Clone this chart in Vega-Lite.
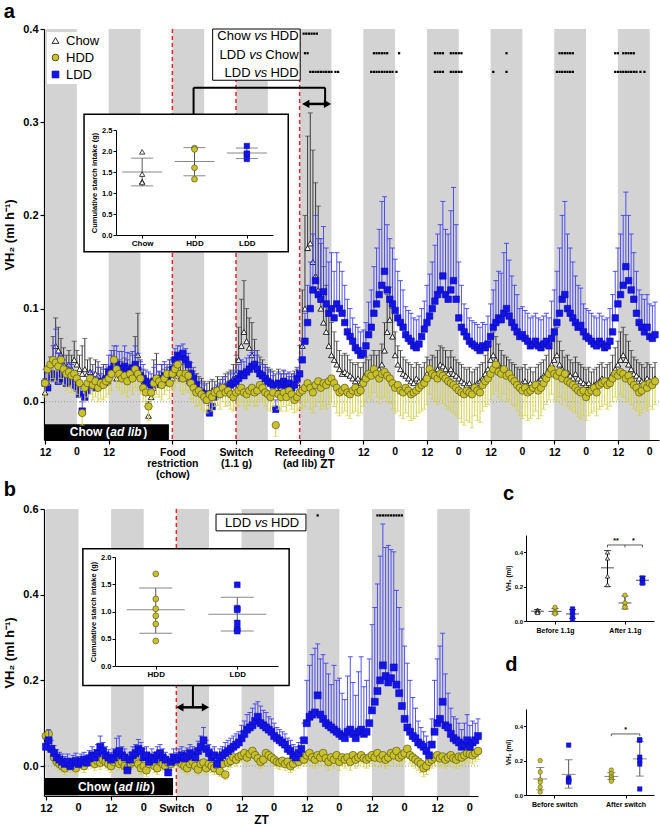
{
"$schema":"https://vega.github.io/schema/vega-lite/v6.json",
"background":"white",
"padding":{"left":3,"top":2,"right":0,"bottom":0},
"config":{
 "view":{"stroke":null},
 "font":"Liberation Sans",
 "axis":{"grid":false,"labelOverlap":false,"domainColor":"black","domainWidth":1.2,"tickColor":"black","tickWidth":1.2,"labelColor":"black","titleColor":"black","labelFontWeight":"bold","titleFontWeight":"bold","labelFont":"Liberation Sans","titleFont":"Liberation Sans"},
 "title":{"font":"Liberation Sans","fontWeight":"bold","color":"black","fontSize":20,"anchor":"start"}
},
"datasets":{
"aBand":[{"s":0,"e":12},{"s":24,"e":36},{"s":48,"e":60},{"s":72,"e":84},{"s":96,"e":108},{"s":120,"e":132},{"s":144,"e":156},{"s":168,"e":180},{"s":192,"e":204},{"s":216,"e":228}],
"bBand":[{"s":0,"e":12},{"s":24,"e":36},{"s":48,"e":60},{"s":72,"e":84},{"s":96,"e":108},{"s":120,"e":132},{"s":144,"e":156}],
"aZero":[{"t":12},{"t":108},{"t":132},{"t":156},{"t":180},{"t":204},{"t":228}],
"bZero":[{"t":12},{"t":36},{"t":60},{"t":84},{"t":108},{"t":132},{"t":156}],
"aEv":[{"t":48},{"t":72},{"t":96}],
"bEv":[{"t":48}],
"aL":[{"t":0,"v":0.02,"h":0.035},{"t":1,"v":0.015,"h":0.03},{"t":2,"v":0.025,"h":0.04},{"t":3,"v":0.03,"h":0.06},{"t":4,"v":0.028,"h":0.078},{"t":5,"v":0.022,"h":0.052},{"t":6,"v":0.03,"h":0.05},{"t":7,"v":0.025,"h":0.045},{"t":8,"v":0.02,"h":0.038},{"t":9,"v":0.022,"h":0.042},{"t":10,"v":0.025,"h":0.04},{"t":11,"v":0.018,"h":0.033},{"t":12,"v":0.015,"h":0.03},{"t":13,"v":0.008,"h":0.02},{"t":14,"v":-0.01,"h":0.0},{"t":15,"v":0.005,"h":0.017},{"t":16,"v":0.012,"h":0.027},{"t":17,"v":0.018,"h":0.033},{"t":18,"v":0.02,"h":0.032},{"t":19,"v":0.015,"h":0.027},{"t":20,"v":0.022,"h":0.037},{"t":21,"v":0.018,"h":0.03},{"t":22,"v":0.02,"h":0.035},{"t":23,"v":0.025,"h":0.04},{"t":24,"v":0.032,"h":0.05},{"t":25,"v":0.035,"h":0.055},{"t":26,"v":0.038,"h":0.06},{"t":27,"v":0.04,"h":0.06},{"t":28,"v":0.036,"h":0.054},{"t":29,"v":0.034,"h":0.054},{"t":30,"v":0.038,"h":0.06},{"t":31,"v":0.035,"h":0.053},{"t":32,"v":0.032,"h":0.052},{"t":33,"v":0.036,"h":0.054},{"t":34,"v":0.04,"h":0.06},{"t":35,"v":0.034,"h":0.052},{"t":36,"v":0.028,"h":0.043},{"t":37,"v":0.025,"h":0.04},{"t":38,"v":0.022,"h":0.034},{"t":39,"v":0.02,"h":0.032},{"t":40,"v":0.018,"h":0.03},{"t":41,"v":0.022,"h":0.037},{"t":42,"v":0.025,"h":0.04},{"t":43,"v":0.02,"h":0.032},{"t":44,"v":0.025,"h":0.04},{"t":45,"v":0.028,"h":0.043},{"t":46,"v":0.025,"h":0.037},{"t":47,"v":0.03,"h":0.045},{"t":48,"v":0.035,"h":0.047},{"t":49,"v":0.045,"h":0.057},{"t":50,"v":0.05,"h":0.06},{"t":51,"v":0.048,"h":0.06},{"t":52,"v":0.052,"h":0.062},{"t":53,"v":0.045,"h":0.057},{"t":54,"v":0.04,"h":0.052},{"t":55,"v":0.03,"h":0.042},{"t":56,"v":0.025,"h":0.037},{"t":57,"v":0.018,"h":0.03},{"t":58,"v":0.012,"h":0.022},{"t":59,"v":0.01,"h":0.02},{"t":60,"v":0.008,"h":0.018},{"t":61,"v":0.002,"h":0.012},{"t":62,"v":-0.012,"h":-0.004},{"t":63,"v":-0.005,"h":0.005},{"t":64,"v":0.005,"h":0.015},{"t":65,"v":0.008,"h":0.018},{"t":66,"v":0.01,"h":0.02},{"t":67,"v":0.012,"h":0.024},{"t":68,"v":0.015,"h":0.027},{"t":69,"v":0.012,"h":0.022},{"t":70,"v":0.018,"h":0.03},{"t":71,"v":0.02,"h":0.032},{"t":72,"v":0.022,"h":0.034},{"t":73,"v":0.025,"h":0.04},{"t":74,"v":0.03,"h":0.045},{"t":75,"v":0.028,"h":0.043},{"t":76,"v":0.032,"h":0.047},{"t":77,"v":0.035,"h":0.05},{"t":78,"v":0.038,"h":0.053},{"t":79,"v":0.04,"h":0.055},{"t":80,"v":0.035,"h":0.05},{"t":81,"v":0.03,"h":0.042},{"t":82,"v":0.028,"h":0.04},{"t":83,"v":0.025,"h":0.037},{"t":84,"v":0.022,"h":0.034},{"t":85,"v":0.02,"h":0.032},{"t":86,"v":0.018,"h":0.028},{"t":87,"v":-0.008,"h":0.002},{"t":88,"v":0.02,"h":0.032},{"t":89,"v":0.018,"h":0.03},{"t":90,"v":0.022,"h":0.034},{"t":91,"v":0.018,"h":0.03},{"t":92,"v":0.02,"h":0.032},{"t":93,"v":0.015,"h":0.027},{"t":94,"v":0.018,"h":0.03},{"t":95,"v":0.025,"h":0.037},{"t":96,"v":0.03,"h":0.045},{"t":97,"v":0.045,"h":0.065},{"t":98,"v":0.065,"h":0.095},{"t":99,"v":0.085,"h":0.125},{"t":100,"v":0.1,"h":0.15},{"t":101,"v":0.12,"h":0.18},{"t":102,"v":0.13,"h":0.2},{"t":103,"v":0.115,"h":0.175},{"t":104,"v":0.11,"h":0.175},{"t":105,"v":0.118,"h":0.188},{"t":106,"v":0.105,"h":0.165},{"t":107,"v":0.095,"h":0.15},{"t":108,"v":0.1,"h":0.16},{"t":109,"v":0.09,"h":0.14},{"t":110,"v":0.105,"h":0.16},{"t":111,"v":0.1,"h":0.15},{"t":112,"v":0.095,"h":0.14},{"t":113,"v":0.085,"h":0.125},{"t":114,"v":0.075,"h":0.11},{"t":115,"v":0.07,"h":0.1},{"t":116,"v":0.065,"h":0.09},{"t":117,"v":0.058,"h":0.083},{"t":118,"v":0.055,"h":0.08},{"t":119,"v":0.05,"h":0.075},{"t":120,"v":0.052,"h":0.077},{"t":121,"v":0.06,"h":0.085},{"t":122,"v":0.072,"h":0.107},{"t":123,"v":0.08,"h":0.12},{"t":124,"v":0.095,"h":0.145},{"t":125,"v":0.105,"h":0.165},{"t":126,"v":0.115,"h":0.185},{"t":127,"v":0.125,"h":0.215},{"t":128,"v":0.14,"h":0.22},{"t":129,"v":0.12,"h":0.19},{"t":130,"v":0.11,"h":0.175},{"t":131,"v":0.105,"h":0.165},{"t":132,"v":0.098,"h":0.153},{"t":133,"v":0.09,"h":0.14},{"t":134,"v":0.085,"h":0.13},{"t":135,"v":0.08,"h":0.12},{"t":136,"v":0.072,"h":0.102},{"t":137,"v":0.068,"h":0.098},{"t":138,"v":0.065,"h":0.095},{"t":139,"v":0.06,"h":0.09},{"t":140,"v":0.058,"h":0.088},{"t":141,"v":0.062,"h":0.092},{"t":142,"v":0.07,"h":0.1},{"t":143,"v":0.078,"h":0.108},{"t":144,"v":0.085,"h":0.125},{"t":145,"v":0.092,"h":0.137},{"t":146,"v":0.1,"h":0.15},{"t":147,"v":0.108,"h":0.168},{"t":148,"v":0.115,"h":0.18},{"t":149,"v":0.12,"h":0.19},{"t":150,"v":0.135,"h":0.215},{"t":151,"v":0.115,"h":0.185},{"t":152,"v":0.11,"h":0.18},{"t":153,"v":0.12,"h":0.205},{"t":154,"v":0.13,"h":0.23},{"t":155,"v":0.11,"h":0.19},{"t":156,"v":0.09,"h":0.15},{"t":157,"v":0.08,"h":0.125},{"t":158,"v":0.075,"h":0.105},{"t":159,"v":0.07,"h":0.1},{"t":160,"v":0.065,"h":0.09},{"t":161,"v":0.062,"h":0.087},{"t":162,"v":0.06,"h":0.085},{"t":163,"v":0.058,"h":0.083},{"t":164,"v":0.055,"h":0.08},{"t":165,"v":0.06,"h":0.085},{"t":166,"v":0.058,"h":0.083},{"t":167,"v":0.062,"h":0.092},{"t":168,"v":0.07,"h":0.105},{"t":169,"v":0.08,"h":0.12},{"t":170,"v":0.085,"h":0.13},{"t":171,"v":0.09,"h":0.14},{"t":172,"v":0.088,"h":0.138},{"t":173,"v":0.095,"h":0.16},{"t":174,"v":0.1,"h":0.17},{"t":175,"v":0.092,"h":0.152},{"t":176,"v":0.085,"h":0.135},{"t":177,"v":0.08,"h":0.125},{"t":178,"v":0.075,"h":0.115},{"t":179,"v":0.07,"h":0.1},{"t":180,"v":0.072,"h":0.102},{"t":181,"v":0.068,"h":0.098},{"t":182,"v":0.065,"h":0.095},{"t":183,"v":0.06,"h":0.09},{"t":184,"v":0.062,"h":0.092},{"t":185,"v":0.065,"h":0.095},{"t":186,"v":0.06,"h":0.09},{"t":187,"v":0.058,"h":0.088},{"t":188,"v":0.062,"h":0.092},{"t":189,"v":0.065,"h":0.095},{"t":190,"v":0.06,"h":0.09},{"t":191,"v":0.068,"h":0.108},{"t":192,"v":0.075,"h":0.12},{"t":193,"v":0.085,"h":0.14},{"t":194,"v":0.095,"h":0.165},{"t":195,"v":0.11,"h":0.2},{"t":196,"v":0.115,"h":0.215},{"t":197,"v":0.1,"h":0.18},{"t":198,"v":0.095,"h":0.165},{"t":199,"v":0.09,"h":0.15},{"t":200,"v":0.085,"h":0.135},{"t":201,"v":0.08,"h":0.125},{"t":202,"v":0.082,"h":0.122},{"t":203,"v":0.075,"h":0.105},{"t":204,"v":0.07,"h":0.1},{"t":205,"v":0.068,"h":0.098},{"t":206,"v":0.065,"h":0.095},{"t":207,"v":0.062,"h":0.092},{"t":208,"v":0.06,"h":0.09},{"t":209,"v":0.065,"h":0.095},{"t":210,"v":0.062,"h":0.092},{"t":211,"v":0.058,"h":0.088},{"t":212,"v":0.06,"h":0.09},{"t":213,"v":0.065,"h":0.1},{"t":214,"v":0.075,"h":0.115},{"t":215,"v":0.09,"h":0.14},{"t":216,"v":0.105,"h":0.165},{"t":217,"v":0.115,"h":0.18},{"t":218,"v":0.125,"h":0.2},{"t":219,"v":0.145,"h":0.225},{"t":220,"v":0.13,"h":0.2},{"t":221,"v":0.12,"h":0.18},{"t":222,"v":0.11,"h":0.16},{"t":223,"v":0.095,"h":0.14},{"t":224,"v":0.085,"h":0.12},{"t":225,"v":0.08,"h":0.115},{"t":226,"v":0.075,"h":0.11},{"t":227,"v":0.08,"h":0.115},{"t":228,"v":0.07,"h":0.105},{"t":229,"v":0.068,"h":0.103},{"t":230,"v":0.072,"h":0.107}],
"aC":[{"t":0,"v":0.01,"h":0.025},{"t":1,"v":0.02,"h":0.035},{"t":2,"v":0.03,"h":0.048},{"t":3,"v":0.045,"h":0.07},{"t":4,"v":0.06,"h":0.09},{"t":5,"v":0.055,"h":0.08},{"t":6,"v":0.05,"h":0.068},{"t":7,"v":0.04,"h":0.058},{"t":8,"v":0.035,"h":0.05},{"t":9,"v":0.04,"h":0.055},{"t":10,"v":0.035,"h":0.05},{"t":11,"v":0.045,"h":0.065},{"t":12,"v":0.04,"h":0.055},{"t":13,"v":0.035,"h":0.05},{"t":14,"v":0.03,"h":0.06},{"t":15,"v":0.035,"h":0.068},{"t":16,"v":0.03,"h":0.045},{"t":17,"v":0.032,"h":0.047},{"t":18,"v":0.025,"h":0.04},{"t":19,"v":0.03,"h":0.045},{"t":20,"v":0.028,"h":0.043},{"t":21,"v":0.022,"h":0.037},{"t":22,"v":0.025,"h":0.04},{"t":23,"v":0.02,"h":0.035},{"t":24,"v":0.022,"h":0.037},{"t":25,"v":0.03,"h":0.05},{"t":26,"v":0.035,"h":0.055},{"t":27,"v":0.025,"h":0.04},{"t":28,"v":0.03,"h":0.045},{"t":29,"v":0.028,"h":0.043},{"t":30,"v":0.032,"h":0.047},{"t":31,"v":0.03,"h":0.045},{"t":32,"v":0.025,"h":0.04},{"t":33,"v":0.035,"h":0.05},{"t":34,"v":0.04,"h":0.07},{"t":35,"v":0.05,"h":0.095},{"t":36,"v":0.03,"h":0.045},{"t":37,"v":0.02,"h":0.035},{"t":38,"v":0.01,"h":0.025},{"t":39,"v":-0.015,"h":0.0},{"t":40,"v":0.005,"h":0.02},{"t":41,"v":0.015,"h":0.045},{"t":42,"v":0.02,"h":0.052},{"t":43,"v":0.018,"h":0.033},{"t":44,"v":0.025,"h":0.04},{"t":45,"v":0.02,"h":0.035},{"t":46,"v":0.025,"h":0.04},{"t":47,"v":0.03,"h":0.045},{"t":48,"v":0.025,"h":0.04},{"t":49,"v":0.03,"h":0.045},{"t":50,"v":0.028,"h":0.043},{"t":51,"v":0.025,"h":0.04},{"t":52,"v":0.03,"h":0.045},{"t":53,"v":0.025,"h":0.04},{"t":54,"v":0.022,"h":0.037},{"t":55,"v":0.02,"h":0.035},{"t":56,"v":0.018,"h":0.033},{"t":57,"v":0.015,"h":0.03},{"t":58,"v":0.012,"h":0.027},{"t":59,"v":0.01,"h":0.025},{"t":60,"v":0.01,"h":0.022},{"t":61,"v":0.008,"h":0.02},{"t":62,"v":0.01,"h":0.022},{"t":63,"v":0.012,"h":0.024},{"t":64,"v":0.01,"h":0.022},{"t":65,"v":0.015,"h":0.027},{"t":66,"v":0.012,"h":0.024},{"t":67,"v":0.015,"h":0.027},{"t":68,"v":0.018,"h":0.03},{"t":69,"v":0.02,"h":0.032},{"t":70,"v":0.022,"h":0.034},{"t":71,"v":0.025,"h":0.04},{"t":72,"v":0.03,"h":0.05},{"t":73,"v":0.045,"h":0.08},{"t":74,"v":0.06,"h":0.11},{"t":75,"v":0.075,"h":0.13},{"t":76,"v":0.065,"h":0.1},{"t":77,"v":0.058,"h":0.09},{"t":78,"v":0.05,"h":0.085},{"t":79,"v":0.042,"h":0.067},{"t":80,"v":0.035,"h":0.055},{"t":81,"v":0.03,"h":0.048},{"t":82,"v":0.028,"h":0.045},{"t":83,"v":0.025,"h":0.04},{"t":84,"v":0.022,"h":0.037},{"t":85,"v":0.02,"h":0.035},{"t":86,"v":0.018,"h":0.033},{"t":87,"v":0.015,"h":0.03},{"t":88,"v":0.02,"h":0.035},{"t":89,"v":0.015,"h":0.03},{"t":90,"v":0.018,"h":0.033},{"t":91,"v":0.015,"h":0.03},{"t":92,"v":0.012,"h":0.027},{"t":93,"v":0.015,"h":0.03},{"t":94,"v":0.018,"h":0.033},{"t":95,"v":0.02,"h":0.035},{"t":96,"v":0.03,"h":0.06},{"t":97,"v":0.06,"h":0.12},{"t":98,"v":0.1,"h":0.2},{"t":99,"v":0.165,"h":0.285},{"t":100,"v":0.17,"h":0.31},{"t":101,"v":0.15,"h":0.27},{"t":102,"v":0.135,"h":0.235},{"t":103,"v":0.12,"h":0.21},{"t":104,"v":0.1,"h":0.17},{"t":105,"v":0.085,"h":0.145},{"t":106,"v":0.075,"h":0.125},{"t":107,"v":0.06,"h":0.1},{"t":108,"v":0.05,"h":0.085},{"t":109,"v":0.045,"h":0.075},{"t":110,"v":0.04,"h":0.065},{"t":111,"v":0.035,"h":0.055},{"t":112,"v":0.03,"h":0.05},{"t":113,"v":0.032,"h":0.052},{"t":114,"v":0.03,"h":0.05},{"t":115,"v":0.028,"h":0.045},{"t":116,"v":0.025,"h":0.042},{"t":117,"v":0.022,"h":0.04},{"t":118,"v":0.025,"h":0.042},{"t":119,"v":0.02,"h":0.037},{"t":120,"v":0.025,"h":0.042},{"t":121,"v":0.03,"h":0.048},{"t":122,"v":0.028,"h":0.045},{"t":123,"v":0.032,"h":0.05},{"t":124,"v":0.035,"h":0.055},{"t":125,"v":0.03,"h":0.05},{"t":126,"v":0.035,"h":0.055},{"t":127,"v":0.04,"h":0.062},{"t":128,"v":0.055,"h":0.085},{"t":129,"v":0.075,"h":0.115},{"t":130,"v":0.088,"h":0.123},{"t":131,"v":0.07,"h":0.1},{"t":132,"v":0.05,"h":0.075},{"t":133,"v":0.04,"h":0.06},{"t":134,"v":0.035,"h":0.055},{"t":135,"v":0.03,"h":0.048},{"t":136,"v":0.028,"h":0.045},{"t":137,"v":0.025,"h":0.042},{"t":138,"v":0.022,"h":0.04},{"t":139,"v":0.02,"h":0.037},{"t":140,"v":0.025,"h":0.042},{"t":141,"v":0.022,"h":0.04},{"t":142,"v":0.02,"h":0.037},{"t":143,"v":0.025,"h":0.042},{"t":144,"v":0.03,"h":0.048},{"t":145,"v":0.028,"h":0.045},{"t":146,"v":0.032,"h":0.05},{"t":147,"v":0.03,"h":0.048},{"t":148,"v":0.035,"h":0.055},{"t":149,"v":0.04,"h":0.06},{"t":150,"v":0.038,"h":0.058},{"t":151,"v":0.035,"h":0.055},{"t":152,"v":0.03,"h":0.048},{"t":153,"v":0.035,"h":0.055},{"t":154,"v":0.03,"h":0.048},{"t":155,"v":0.028,"h":0.045},{"t":156,"v":0.025,"h":0.042},{"t":157,"v":0.022,"h":0.04},{"t":158,"v":0.02,"h":0.037},{"t":159,"v":0.018,"h":0.035},{"t":160,"v":0.02,"h":0.037},{"t":161,"v":0.015,"h":0.032},{"t":162,"v":0.018,"h":0.035},{"t":163,"v":0.02,"h":0.037},{"t":164,"v":0.022,"h":0.04},{"t":165,"v":0.025,"h":0.042},{"t":166,"v":0.03,"h":0.05},{"t":167,"v":0.035,"h":0.058},{"t":168,"v":0.045,"h":0.07},{"t":169,"v":0.05,"h":0.075},{"t":170,"v":0.045,"h":0.07},{"t":171,"v":0.04,"h":0.062},{"t":172,"v":0.035,"h":0.055},{"t":173,"v":0.032,"h":0.05},{"t":174,"v":0.03,"h":0.048},{"t":175,"v":0.028,"h":0.045},{"t":176,"v":0.025,"h":0.042},{"t":177,"v":0.022,"h":0.04},{"t":178,"v":0.02,"h":0.037},{"t":179,"v":0.018,"h":0.035},{"t":180,"v":0.02,"h":0.037},{"t":181,"v":0.022,"h":0.04},{"t":182,"v":0.018,"h":0.035},{"t":183,"v":0.02,"h":0.037},{"t":184,"v":0.015,"h":0.032},{"t":185,"v":0.02,"h":0.037},{"t":186,"v":0.022,"h":0.04},{"t":187,"v":0.025,"h":0.042},{"t":188,"v":0.028,"h":0.045},{"t":189,"v":0.03,"h":0.05},{"t":190,"v":0.035,"h":0.058},{"t":191,"v":0.04,"h":0.065},{"t":192,"v":0.045,"h":0.075},{"t":193,"v":0.05,"h":0.08},{"t":194,"v":0.04,"h":0.065},{"t":195,"v":0.035,"h":0.055},{"t":196,"v":0.03,"h":0.048},{"t":197,"v":0.032,"h":0.05},{"t":198,"v":0.028,"h":0.045},{"t":199,"v":0.025,"h":0.042},{"t":200,"v":0.03,"h":0.048},{"t":201,"v":0.025,"h":0.042},{"t":202,"v":0.022,"h":0.04},{"t":203,"v":0.02,"h":0.037},{"t":204,"v":0.018,"h":0.035},{"t":205,"v":0.02,"h":0.037},{"t":206,"v":0.015,"h":0.032},{"t":207,"v":0.018,"h":0.035},{"t":208,"v":0.02,"h":0.037},{"t":209,"v":0.022,"h":0.04},{"t":210,"v":0.025,"h":0.042},{"t":211,"v":0.02,"h":0.037},{"t":212,"v":0.022,"h":0.04},{"t":213,"v":0.025,"h":0.042},{"t":214,"v":0.03,"h":0.05},{"t":215,"v":0.035,"h":0.058},{"t":216,"v":0.04,"h":0.065},{"t":217,"v":0.045,"h":0.075},{"t":218,"v":0.05,"h":0.08},{"t":219,"v":0.045,"h":0.072},{"t":220,"v":0.04,"h":0.065},{"t":221,"v":0.035,"h":0.055},{"t":222,"v":0.03,"h":0.048},{"t":223,"v":0.028,"h":0.045},{"t":224,"v":0.025,"h":0.042},{"t":225,"v":0.022,"h":0.04},{"t":226,"v":0.02,"h":0.037},{"t":227,"v":0.025,"h":0.042},{"t":228,"v":0.022,"h":0.04},{"t":229,"v":0.02,"h":0.037},{"t":230,"v":0.025,"h":0.042}],
"aH":[{"t":0,"v":0.02,"l":0.005},{"t":1,"v":0.035,"l":0.018},{"t":2,"v":0.04,"l":0.022},{"t":3,"v":0.045,"l":0.025},{"t":4,"v":0.042,"l":0.022},{"t":5,"v":0.038,"l":0.02},{"t":6,"v":0.045,"l":0.025},{"t":7,"v":0.035,"l":0.018},{"t":8,"v":0.03,"l":0.012},{"t":9,"v":0.032,"l":0.015},{"t":10,"v":0.028,"l":0.01},{"t":11,"v":0.03,"l":0.012},{"t":12,"v":0.025,"l":0.008},{"t":13,"v":0.02,"l":0.005},{"t":14,"v":-0.012,"l":-0.025},{"t":15,"v":0.015,"l":0.0},{"t":16,"v":0.02,"l":0.005},{"t":17,"v":0.025,"l":0.008},{"t":18,"v":0.018,"l":0.002},{"t":19,"v":0.022,"l":0.005},{"t":20,"v":0.015,"l":0.0},{"t":21,"v":0.02,"l":0.003},{"t":22,"v":0.018,"l":0.002},{"t":23,"v":0.022,"l":0.005},{"t":24,"v":0.025,"l":0.008},{"t":25,"v":0.03,"l":0.012},{"t":26,"v":0.045,"l":0.025},{"t":27,"v":0.035,"l":0.015},{"t":28,"v":0.03,"l":0.012},{"t":29,"v":0.025,"l":0.008},{"t":30,"v":0.028,"l":0.01},{"t":31,"v":0.022,"l":0.005},{"t":32,"v":0.03,"l":0.012},{"t":33,"v":0.025,"l":0.008},{"t":34,"v":0.035,"l":0.015},{"t":35,"v":0.03,"l":0.012},{"t":36,"v":0.025,"l":0.008},{"t":37,"v":0.015,"l":0.0},{"t":38,"v":0.01,"l":-0.005},{"t":39,"v":-0.005,"l":-0.02},{"t":40,"v":0.01,"l":-0.005},{"t":41,"v":0.02,"l":0.005},{"t":42,"v":0.025,"l":0.008},{"t":43,"v":0.022,"l":0.005},{"t":44,"v":0.018,"l":0.002},{"t":45,"v":0.025,"l":0.008},{"t":46,"v":0.03,"l":0.012},{"t":47,"v":0.02,"l":0.003},{"t":48,"v":0.03,"l":0.012},{"t":49,"v":0.035,"l":0.015},{"t":50,"v":0.04,"l":0.02},{"t":51,"v":0.03,"l":0.012},{"t":52,"v":0.025,"l":0.008},{"t":53,"v":0.03,"l":0.012},{"t":54,"v":0.028,"l":0.01},{"t":55,"v":0.02,"l":0.003},{"t":56,"v":0.015,"l":0.0},{"t":57,"v":0.01,"l":-0.005},{"t":58,"v":0.012,"l":-0.004},{"t":59,"v":0.008,"l":-0.008},{"t":60,"v":0.005,"l":-0.01},{"t":61,"v":0.002,"l":-0.012},{"t":62,"v":0.008,"l":-0.008},{"t":63,"v":0.005,"l":-0.01},{"t":64,"v":0.01,"l":-0.005},{"t":65,"v":0.012,"l":-0.004},{"t":66,"v":0.008,"l":-0.008},{"t":67,"v":0.015,"l":0.0},{"t":68,"v":0.01,"l":-0.005},{"t":69,"v":0.012,"l":-0.004},{"t":70,"v":0.008,"l":-0.008},{"t":71,"v":0.005,"l":-0.01},{"t":72,"v":0.01,"l":-0.005},{"t":73,"v":0.012,"l":-0.004},{"t":74,"v":0.015,"l":0.0},{"t":75,"v":0.01,"l":-0.005},{"t":76,"v":0.008,"l":-0.008},{"t":77,"v":0.012,"l":-0.004},{"t":78,"v":0.015,"l":0.0},{"t":79,"v":0.01,"l":-0.005},{"t":80,"v":0.012,"l":-0.004},{"t":81,"v":0.018,"l":0.002},{"t":82,"v":0.015,"l":0.0},{"t":83,"v":0.01,"l":-0.005},{"t":84,"v":0.008,"l":-0.008},{"t":85,"v":0.005,"l":-0.01},{"t":86,"v":0.01,"l":-0.005},{"t":87,"v":-0.025,"l":-0.037},{"t":88,"v":0.008,"l":-0.008},{"t":89,"v":0.005,"l":-0.01},{"t":90,"v":0.01,"l":-0.005},{"t":91,"v":0.005,"l":-0.01},{"t":92,"v":0.012,"l":-0.004},{"t":93,"v":0.008,"l":-0.008},{"t":94,"v":0.002,"l":-0.012},{"t":95,"v":0.005,"l":-0.01},{"t":96,"v":0.01,"l":-0.008},{"t":97,"v":0.012,"l":-0.008},{"t":98,"v":0.015,"l":-0.005},{"t":99,"v":0.02,"l":0.0},{"t":100,"v":0.015,"l":-0.008},{"t":101,"v":0.01,"l":-0.012},{"t":102,"v":0.018,"l":-0.005},{"t":103,"v":0.022,"l":0.0},{"t":104,"v":0.015,"l":-0.008},{"t":105,"v":0.02,"l":-0.005},{"t":106,"v":0.018,"l":-0.008},{"t":107,"v":0.022,"l":-0.003},{"t":108,"v":0.025,"l":0.0},{"t":109,"v":0.02,"l":-0.005},{"t":110,"v":0.015,"l":-0.012},{"t":111,"v":0.01,"l":-0.015},{"t":112,"v":0.012,"l":-0.012},{"t":113,"v":0.015,"l":-0.01},{"t":114,"v":0.01,"l":-0.015},{"t":115,"v":0.008,"l":-0.018},{"t":116,"v":0.012,"l":-0.012},{"t":117,"v":0.015,"l":-0.01},{"t":118,"v":0.01,"l":-0.015},{"t":119,"v":0.012,"l":-0.012},{"t":120,"v":0.02,"l":-0.005},{"t":121,"v":0.025,"l":0.0},{"t":122,"v":0.03,"l":0.005},{"t":123,"v":0.028,"l":0.002},{"t":124,"v":0.035,"l":0.01},{"t":125,"v":0.03,"l":0.005},{"t":126,"v":0.025,"l":-0.002},{"t":127,"v":0.03,"l":0.003},{"t":128,"v":0.032,"l":0.005},{"t":129,"v":0.028,"l":0.0},{"t":130,"v":0.025,"l":-0.002},{"t":131,"v":0.02,"l":-0.008},{"t":132,"v":0.015,"l":-0.012},{"t":133,"v":0.018,"l":-0.01},{"t":134,"v":0.012,"l":-0.015},{"t":135,"v":0.01,"l":-0.018},{"t":136,"v":0.015,"l":-0.012},{"t":137,"v":0.012,"l":-0.016},{"t":138,"v":0.008,"l":-0.02},{"t":139,"v":0.01,"l":-0.018},{"t":140,"v":0.012,"l":-0.016},{"t":141,"v":0.015,"l":-0.012},{"t":142,"v":0.018,"l":-0.01},{"t":143,"v":0.02,"l":-0.008},{"t":144,"v":0.025,"l":-0.003},{"t":145,"v":0.035,"l":0.008},{"t":146,"v":0.03,"l":0.003},{"t":147,"v":0.028,"l":0.0},{"t":148,"v":0.025,"l":-0.003},{"t":149,"v":0.03,"l":0.002},{"t":150,"v":0.028,"l":-0.002},{"t":151,"v":0.025,"l":-0.005},{"t":152,"v":0.022,"l":-0.008},{"t":153,"v":0.02,"l":-0.01},{"t":154,"v":0.018,"l":-0.012},{"t":155,"v":0.015,"l":-0.015},{"t":156,"v":0.012,"l":-0.018},{"t":157,"v":0.01,"l":-0.022},{"t":158,"v":0.008,"l":-0.025},{"t":159,"v":0.012,"l":-0.02},{"t":160,"v":0.01,"l":-0.022},{"t":161,"v":0.008,"l":-0.028},{"t":162,"v":0.015,"l":-0.015},{"t":163,"v":0.012,"l":-0.02},{"t":164,"v":0.01,"l":-0.022},{"t":165,"v":0.018,"l":-0.01},{"t":166,"v":0.022,"l":-0.005},{"t":167,"v":0.025,"l":-0.003},{"t":168,"v":0.03,"l":0.002},{"t":169,"v":0.035,"l":0.008},{"t":170,"v":0.04,"l":0.012},{"t":171,"v":0.032,"l":0.005},{"t":172,"v":0.03,"l":0.002},{"t":173,"v":0.035,"l":0.008},{"t":174,"v":0.028,"l":0.0},{"t":175,"v":0.03,"l":0.002},{"t":176,"v":0.025,"l":-0.003},{"t":177,"v":0.022,"l":-0.005},{"t":178,"v":0.018,"l":-0.01},{"t":179,"v":0.015,"l":-0.015},{"t":180,"v":0.012,"l":-0.018},{"t":181,"v":0.015,"l":-0.015},{"t":182,"v":0.01,"l":-0.02},{"t":183,"v":0.012,"l":-0.018},{"t":184,"v":0.015,"l":-0.015},{"t":185,"v":0.018,"l":-0.01},{"t":186,"v":0.012,"l":-0.018},{"t":187,"v":0.015,"l":-0.015},{"t":188,"v":0.02,"l":-0.008},{"t":189,"v":0.025,"l":-0.003},{"t":190,"v":0.03,"l":0.002},{"t":191,"v":0.035,"l":0.008},{"t":192,"v":0.03,"l":0.002},{"t":193,"v":0.028,"l":0.0},{"t":194,"v":0.032,"l":0.005},{"t":195,"v":0.025,"l":-0.003},{"t":196,"v":0.03,"l":0.002},{"t":197,"v":0.022,"l":-0.005},{"t":198,"v":0.02,"l":-0.008},{"t":199,"v":0.018,"l":-0.01},{"t":200,"v":0.015,"l":-0.012},{"t":201,"v":0.012,"l":-0.016},{"t":202,"v":0.01,"l":-0.018},{"t":203,"v":0.012,"l":-0.015},{"t":204,"v":0.005,"l":-0.02},{"t":205,"v":0.01,"l":-0.015},{"t":206,"v":0.012,"l":-0.012},{"t":207,"v":0.015,"l":-0.01},{"t":208,"v":0.01,"l":-0.015},{"t":209,"v":0.018,"l":-0.008},{"t":210,"v":0.02,"l":-0.005},{"t":211,"v":0.022,"l":-0.003},{"t":212,"v":0.018,"l":-0.008},{"t":213,"v":0.02,"l":-0.005},{"t":214,"v":0.025,"l":0.0},{"t":215,"v":0.03,"l":0.005},{"t":216,"v":0.028,"l":0.002},{"t":217,"v":0.032,"l":0.008},{"t":218,"v":0.03,"l":0.005},{"t":219,"v":0.025,"l":0.0},{"t":220,"v":0.028,"l":0.002},{"t":221,"v":0.022,"l":-0.003},{"t":222,"v":0.018,"l":-0.008},{"t":223,"v":0.015,"l":-0.01},{"t":224,"v":0.01,"l":-0.015},{"t":225,"v":0.012,"l":-0.012},{"t":226,"v":0.018,"l":-0.008},{"t":227,"v":0.015,"l":-0.01},{"t":228,"v":0.02,"l":-0.005},{"t":229,"v":0.018,"l":-0.008},{"t":230,"v":0.022,"l":-0.003}],
"aSig":[{"c":"CH","t":97.5},{"c":"CH","t":98.5},{"c":"CH","t":99.5},{"c":"CH","t":100.5},{"c":"CH","t":101.5},{"c":"CH","t":102.5},
{"c":"LC","t":98},{"c":"LC","t":99},{"c":"LC","t":124},{"c":"LC","t":125},{"c":"LC","t":126},{"c":"LC","t":127},{"c":"LC","t":128},{"c":"LC","t":129},{"c":"LC","t":133.5},{"c":"LC","t":147},{"c":"LC","t":148},{"c":"LC","t":149},{"c":"LC","t":150},{"c":"LC","t":153},{"c":"LC","t":154},{"c":"LC","t":155},{"c":"LC","t":156},{"c":"LC","t":157},{"c":"LC","t":174},{"c":"LC","t":194},{"c":"LC","t":195},{"c":"LC","t":196},{"c":"LC","t":197},{"c":"LC","t":198},{"c":"LC","t":199},{"c":"LC","t":215},{"c":"LC","t":216},{"c":"LC","t":218},{"c":"LC","t":219},{"c":"LC","t":220},{"c":"LC","t":221},{"c":"LC","t":222},
{"c":"LH","t":100},{"c":"LH","t":101},{"c":"LH","t":102},{"c":"LH","t":103},{"c":"LH","t":104},{"c":"LH","t":105},{"c":"LH","t":106},{"c":"LH","t":107},{"c":"LH","t":108},{"c":"LH","t":109.5},{"c":"LH","t":110.5},{"c":"LH","t":123},{"c":"LH","t":124},{"c":"LH","t":125},{"c":"LH","t":126},{"c":"LH","t":127},{"c":"LH","t":128},{"c":"LH","t":129},{"c":"LH","t":130},{"c":"LH","t":131},{"c":"LH","t":132.5},{"c":"LH","t":147},{"c":"LH","t":148},{"c":"LH","t":149},{"c":"LH","t":150},{"c":"LH","t":153},{"c":"LH","t":154},{"c":"LH","t":155},{"c":"LH","t":156},{"c":"LH","t":157},{"c":"LH","t":169},{"c":"LH","t":174},{"c":"LH","t":193},{"c":"LH","t":194},{"c":"LH","t":195},{"c":"LH","t":196},{"c":"LH","t":197},{"c":"LH","t":198},{"c":"LH","t":199},{"c":"LH","t":215},{"c":"LH","t":216},{"c":"LH","t":217},{"c":"LH","t":218},{"c":"LH","t":219},{"c":"LH","t":220},{"c":"LH","t":221},{"c":"LH","t":222},{"c":"LH","t":223},{"c":"LH","t":224.5},{"c":"LH","t":226}],
"aIns":[{"g":"Chow","v":1.98},{"g":"Chow","v":1.45},{"g":"Chow","v":1.27},{"g":"Chow","v":1.25},{"g":"HDD","v":2.07},{"g":"HDD","v":2.04},{"g":"HDD","v":1.6},{"g":"HDD","v":1.33},{"g":"LDD","v":2.12},{"g":"LDD","v":1.94},{"g":"LDD","v":1.92},{"g":"LDD","v":1.81}],
"aInsS":[{"g":"Chow","m":1.5,"lo":1.17,"hi":1.83},{"g":"HDD","m":1.75,"lo":1.41,"hi":2.08},{"g":"LDD","m":1.95,"lo":1.82,"hi":2.07}],
"bL":[{"t":0,"v":0.045,"h":0.065},{"t":1,"v":0.06,"h":0.085},{"t":2,"v":0.04,"h":0.06},{"t":3,"v":0.03,"h":0.048},{"t":4,"v":0.02,"h":0.038},{"t":5,"v":0.015,"h":0.032},{"t":6,"v":0.01,"h":0.028},{"t":7,"v":0.005,"h":0.022},{"t":8,"v":0.01,"h":0.028},{"t":9,"v":0.0,"h":0.018},{"t":10,"v":0.008,"h":0.025},{"t":11,"v":0.012,"h":0.03},{"t":12,"v":0.005,"h":0.022},{"t":13,"v":0.01,"h":0.028},{"t":14,"v":0.015,"h":0.032},{"t":15,"v":0.008,"h":0.025},{"t":16,"v":0.018,"h":0.036},{"t":17,"v":0.025,"h":0.045},{"t":18,"v":0.02,"h":0.038},{"t":19,"v":0.03,"h":0.05},{"t":20,"v":0.045,"h":0.07},{"t":21,"v":0.035,"h":0.055},{"t":22,"v":0.025,"h":0.045},{"t":23,"v":0.02,"h":0.038},{"t":24,"v":0.015,"h":0.032},{"t":25,"v":0.02,"h":0.04},{"t":26,"v":0.03,"h":0.065},{"t":27,"v":0.035,"h":0.07},{"t":28,"v":0.025,"h":0.045},{"t":29,"v":0.02,"h":0.04},{"t":30,"v":-0.01,"h":0.008},{"t":31,"v":0.015,"h":0.032},{"t":32,"v":0.025,"h":0.045},{"t":33,"v":0.03,"h":0.05},{"t":34,"v":0.04,"h":0.062},{"t":35,"v":0.035,"h":0.055},{"t":36,"v":0.02,"h":0.04},{"t":37,"v":0.025,"h":0.045},{"t":38,"v":0.01,"h":0.028},{"t":39,"v":0.02,"h":0.04},{"t":40,"v":0.015,"h":0.032},{"t":41,"v":0.025,"h":0.045},{"t":42,"v":0.03,"h":0.05},{"t":43,"v":0.02,"h":0.04},{"t":44,"v":0.015,"h":0.032},{"t":45,"v":-0.015,"h":0.002},{"t":46,"v":0.01,"h":0.028},{"t":47,"v":0.02,"h":0.04},{"t":48,"v":0.015,"h":0.032},{"t":49,"v":0.02,"h":0.04},{"t":50,"v":0.025,"h":0.045},{"t":51,"v":0.018,"h":0.036},{"t":52,"v":0.022,"h":0.042},{"t":53,"v":0.03,"h":0.05},{"t":54,"v":0.025,"h":0.045},{"t":55,"v":0.02,"h":0.04},{"t":56,"v":0.035,"h":0.058},{"t":57,"v":0.045,"h":0.07},{"t":58,"v":0.06,"h":0.09},{"t":59,"v":0.04,"h":0.06},{"t":60,"v":0.03,"h":0.05},{"t":61,"v":0.02,"h":0.04},{"t":62,"v":0.025,"h":0.045},{"t":63,"v":0.005,"h":0.025},{"t":64,"v":0.02,"h":0.04},{"t":65,"v":0.025,"h":0.045},{"t":66,"v":0.03,"h":0.055},{"t":67,"v":0.035,"h":0.06},{"t":68,"v":0.04,"h":0.065},{"t":69,"v":0.045,"h":0.07},{"t":70,"v":0.05,"h":0.075},{"t":71,"v":0.055,"h":0.08},{"t":72,"v":0.065,"h":0.095},{"t":73,"v":0.075,"h":0.105},{"t":74,"v":0.085,"h":0.12},{"t":75,"v":0.09,"h":0.125},{"t":76,"v":0.095,"h":0.135},{"t":77,"v":0.105,"h":0.145},{"t":78,"v":0.115,"h":0.15},{"t":79,"v":0.1,"h":0.14},{"t":80,"v":0.095,"h":0.13},{"t":81,"v":0.09,"h":0.125},{"t":82,"v":0.085,"h":0.115},{"t":83,"v":0.08,"h":0.11},{"t":84,"v":0.07,"h":0.1},{"t":85,"v":0.065,"h":0.09},{"t":86,"v":0.06,"h":0.085},{"t":87,"v":0.055,"h":0.08},{"t":88,"v":0.05,"h":0.075},{"t":89,"v":0.04,"h":0.065},{"t":90,"v":0.035,"h":0.06},{"t":91,"v":0.025,"h":0.05},{"t":92,"v":0.02,"h":0.045},{"t":93,"v":0.03,"h":0.055},{"t":94,"v":0.04,"h":0.065},{"t":95,"v":0.06,"h":0.1},{"t":96,"v":0.1,"h":0.2},{"t":97,"v":0.115,"h":0.235},{"t":98,"v":0.12,"h":0.26},{"t":99,"v":0.125,"h":0.275},{"t":100,"v":0.165,"h":0.285},{"t":101,"v":0.12,"h":0.25},{"t":102,"v":0.11,"h":0.26},{"t":103,"v":0.1,"h":0.24},{"t":104,"v":0.095,"h":0.215},{"t":105,"v":0.09,"h":0.19},{"t":106,"v":0.085,"h":0.235},{"t":107,"v":0.08,"h":0.2},{"t":108,"v":0.075,"h":0.205},{"t":109,"v":0.07,"h":0.17},{"t":110,"v":0.065,"h":0.155},{"t":111,"v":0.08,"h":0.21},{"t":112,"v":0.085,"h":0.255},{"t":113,"v":0.075,"h":0.195},{"t":114,"v":0.065,"h":0.165},{"t":115,"v":0.08,"h":0.22},{"t":116,"v":0.085,"h":0.255},{"t":117,"v":0.075,"h":0.185},{"t":118,"v":0.08,"h":0.2},{"t":119,"v":0.1,"h":0.25},{"t":120,"v":0.13,"h":0.33},{"t":121,"v":0.15,"h":0.37},{"t":122,"v":0.175,"h":0.425},{"t":123,"v":0.2,"h":0.49},{"t":124,"v":0.235,"h":0.565},{"t":125,"v":0.21,"h":0.51},{"t":126,"v":0.195,"h":0.515},{"t":127,"v":0.205,"h":0.505},{"t":128,"v":0.23,"h":0.5},{"t":129,"v":0.19,"h":0.41},{"t":130,"v":0.17,"h":0.37},{"t":131,"v":0.14,"h":0.32},{"t":132,"v":0.11,"h":0.28},{"t":133,"v":0.09,"h":0.24},{"t":134,"v":0.08,"h":0.2},{"t":135,"v":0.07,"h":0.16},{"t":136,"v":0.065,"h":0.135},{"t":137,"v":0.055,"h":0.105},{"t":138,"v":0.05,"h":0.09},{"t":139,"v":0.045,"h":0.08},{"t":140,"v":0.035,"h":0.07},{"t":141,"v":0.025,"h":0.055},{"t":142,"v":0.05,"h":0.11},{"t":143,"v":0.08,"h":0.2},{"t":144,"v":0.1,"h":0.25},{"t":145,"v":0.11,"h":0.28},{"t":146,"v":0.15,"h":0.31},{"t":147,"v":0.095,"h":0.215},{"t":148,"v":0.09,"h":0.17},{"t":149,"v":0.075,"h":0.135},{"t":150,"v":0.065,"h":0.115},{"t":151,"v":0.06,"h":0.11},{"t":152,"v":0.055,"h":0.1},{"t":153,"v":0.045,"h":0.085},{"t":154,"v":0.05,"h":0.1},{"t":155,"v":0.06,"h":0.12},{"t":156,"v":0.045,"h":0.095},{"t":157,"v":0.055,"h":0.105},{"t":158,"v":0.06,"h":0.1},{"t":159,"v":0.07,"h":0.11}],
"bH":[{"t":0,"v":0.07,"l":0.055},{"t":1,"v":0.075,"l":0.06},{"t":2,"v":0.04,"l":0.025},{"t":3,"v":0.02,"l":0.005},{"t":4,"v":0.01,"l":-0.005},{"t":5,"v":0.005,"l":-0.01},{"t":6,"v":0.0,"l":-0.015},{"t":7,"v":-0.005,"l":-0.02},{"t":8,"v":0.005,"l":-0.01},{"t":9,"v":0.0,"l":-0.015},{"t":10,"v":0.008,"l":-0.008},{"t":11,"v":-0.005,"l":-0.02},{"t":12,"v":0.005,"l":-0.01},{"t":13,"v":0.01,"l":-0.005},{"t":14,"v":0.0,"l":-0.015},{"t":15,"v":0.008,"l":-0.008},{"t":16,"v":0.015,"l":0.0},{"t":17,"v":0.01,"l":-0.005},{"t":18,"v":0.005,"l":-0.01},{"t":19,"v":0.012,"l":-0.003},{"t":20,"v":0.008,"l":-0.008},{"t":21,"v":0.015,"l":0.0},{"t":22,"v":0.01,"l":-0.005},{"t":23,"v":0.005,"l":-0.01},{"t":24,"v":0.0,"l":-0.015},{"t":25,"v":0.01,"l":-0.005},{"t":26,"v":0.015,"l":0.0},{"t":27,"v":0.005,"l":-0.01},{"t":28,"v":0.01,"l":-0.005},{"t":29,"v":0.0,"l":-0.015},{"t":30,"v":-0.005,"l":-0.02},{"t":31,"v":0.005,"l":-0.01},{"t":32,"v":0.01,"l":-0.005},{"t":33,"v":0.015,"l":0.0},{"t":34,"v":0.005,"l":-0.01},{"t":35,"v":-0.005,"l":-0.02},{"t":36,"v":0.0,"l":-0.015},{"t":37,"v":-0.01,"l":-0.025},{"t":38,"v":0.005,"l":-0.01},{"t":39,"v":0.01,"l":-0.005},{"t":40,"v":0.0,"l":-0.015},{"t":41,"v":-0.005,"l":-0.02},{"t":42,"v":0.01,"l":-0.005},{"t":43,"v":0.005,"l":-0.01},{"t":44,"v":0.0,"l":-0.015},{"t":45,"v":0.008,"l":-0.008},{"t":46,"v":0.005,"l":-0.01},{"t":47,"v":0.01,"l":-0.005},{"t":48,"v":0.015,"l":0.0},{"t":49,"v":0.01,"l":-0.005},{"t":50,"v":0.005,"l":-0.01},{"t":51,"v":0.0,"l":-0.015},{"t":52,"v":-0.005,"l":-0.02},{"t":53,"v":0.005,"l":-0.01},{"t":54,"v":0.01,"l":-0.005},{"t":55,"v":0.0,"l":-0.015},{"t":56,"v":-0.008,"l":-0.022},{"t":57,"v":0.005,"l":-0.01},{"t":58,"v":0.008,"l":-0.008},{"t":59,"v":-0.005,"l":-0.02},{"t":60,"v":0.005,"l":-0.01},{"t":61,"v":0.0,"l":-0.015},{"t":62,"v":-0.005,"l":-0.02},{"t":63,"v":0.002,"l":-0.013},{"t":64,"v":-0.012,"l":-0.025},{"t":65,"v":0.005,"l":-0.01},{"t":66,"v":-0.02,"l":-0.032},{"t":67,"v":0.008,"l":-0.008},{"t":68,"v":0.012,"l":-0.003},{"t":69,"v":0.02,"l":0.005},{"t":70,"v":0.015,"l":0.0},{"t":71,"v":0.022,"l":0.007},{"t":72,"v":0.025,"l":0.01},{"t":73,"v":0.03,"l":0.015},{"t":74,"v":0.02,"l":0.005},{"t":75,"v":0.028,"l":0.013},{"t":76,"v":0.035,"l":0.02},{"t":77,"v":0.025,"l":0.01},{"t":78,"v":0.018,"l":0.003},{"t":79,"v":0.01,"l":-0.005},{"t":80,"v":0.015,"l":0.0},{"t":81,"v":0.03,"l":0.015},{"t":82,"v":0.025,"l":0.01},{"t":83,"v":0.02,"l":0.005},{"t":84,"v":0.015,"l":0.0},{"t":85,"v":0.01,"l":-0.005},{"t":86,"v":0.008,"l":-0.008},{"t":87,"v":0.012,"l":-0.003},{"t":88,"v":0.005,"l":-0.01},{"t":89,"v":0.01,"l":-0.005},{"t":90,"v":0.0,"l":-0.015},{"t":91,"v":0.005,"l":-0.01},{"t":92,"v":0.015,"l":0.0},{"t":93,"v":0.01,"l":-0.005},{"t":94,"v":0.02,"l":0.005},{"t":95,"v":0.015,"l":0.0},{"t":96,"v":0.025,"l":0.005},{"t":97,"v":0.03,"l":0.01},{"t":98,"v":0.02,"l":0.0},{"t":99,"v":0.015,"l":-0.005},{"t":100,"v":0.025,"l":0.005},{"t":101,"v":0.02,"l":0.0},{"t":102,"v":0.03,"l":0.01},{"t":103,"v":0.018,"l":-0.002},{"t":104,"v":0.01,"l":-0.01},{"t":105,"v":0.02,"l":0.0},{"t":106,"v":0.015,"l":-0.005},{"t":107,"v":0.025,"l":0.005},{"t":108,"v":0.01,"l":-0.01},{"t":109,"v":0.02,"l":0.0},{"t":110,"v":0.015,"l":-0.005},{"t":111,"v":0.02,"l":0.0},{"t":112,"v":0.01,"l":-0.01},{"t":113,"v":0.025,"l":0.005},{"t":114,"v":0.015,"l":-0.005},{"t":115,"v":0.02,"l":0.0},{"t":116,"v":0.025,"l":0.005},{"t":117,"v":0.018,"l":-0.002},{"t":118,"v":0.015,"l":-0.005},{"t":119,"v":0.02,"l":0.0},{"t":120,"v":0.025,"l":0.005},{"t":121,"v":0.02,"l":0.0},{"t":122,"v":0.03,"l":0.01},{"t":123,"v":0.018,"l":-0.002},{"t":124,"v":0.025,"l":0.005},{"t":125,"v":0.015,"l":-0.005},{"t":126,"v":0.02,"l":0.0},{"t":127,"v":0.03,"l":0.01},{"t":128,"v":0.025,"l":0.005},{"t":129,"v":0.035,"l":0.015},{"t":130,"v":0.02,"l":0.0},{"t":131,"v":0.025,"l":0.005},{"t":132,"v":0.03,"l":0.01},{"t":133,"v":0.04,"l":0.02},{"t":134,"v":0.025,"l":0.005},{"t":135,"v":0.02,"l":0.0},{"t":136,"v":0.015,"l":-0.005},{"t":137,"v":0.01,"l":-0.01},{"t":138,"v":0.005,"l":-0.015},{"t":139,"v":-0.005,"l":-0.025},{"t":140,"v":0.0,"l":-0.02},{"t":141,"v":0.01,"l":-0.01},{"t":142,"v":0.015,"l":-0.005},{"t":143,"v":0.02,"l":0.0},{"t":144,"v":0.025,"l":0.005},{"t":145,"v":0.018,"l":-0.002},{"t":146,"v":0.022,"l":0.002},{"t":147,"v":0.015,"l":-0.005},{"t":148,"v":0.02,"l":0.0},{"t":149,"v":0.025,"l":0.005},{"t":150,"v":0.018,"l":-0.002},{"t":151,"v":0.015,"l":-0.005},{"t":152,"v":0.022,"l":0.002},{"t":153,"v":0.02,"l":0.0},{"t":154,"v":0.025,"l":0.005},{"t":155,"v":0.03,"l":0.01},{"t":156,"v":0.028,"l":0.008},{"t":157,"v":0.025,"l":0.005},{"t":158,"v":0.03,"l":0.01},{"t":159,"v":0.035,"l":0.015}],
"bSig":[{"t":100},{"t":122},{"t":123},{"t":124},{"t":125},{"t":126},{"t":127},{"t":128},{"t":129},{"t":130},{"t":131}],
"bIns":[{"g":"HDD","v":1.69},{"g":"HDD","v":1.23},{"g":"HDD","v":1.05},{"g":"HDD","v":0.92},{"g":"HDD","v":0.77},{"g":"HDD","v":0.46},{"g":"LDD","v":1.49},{"g":"LDD","v":1.06},{"g":"LDD","v":1.03},{"g":"LDD","v":0.79},{"g":"LDD","v":0.68},{"g":"LDD","v":0.64}],
"bInsS":[{"g":"HDD","m":1.03,"lo":0.6,"hi":1.43},{"g":"LDD","m":0.95,"lo":0.64,"hi":1.26}],
"cP":[{"k":"BC","g":"C","v":0.065},{"k":"BC","g":"C","v":0.06},{"k":"BC","g":"C","v":0.055},{"k":"BC","g":"C","v":0.048},{"k":"BH","g":"H","v":0.08},{"k":"BH","g":"H","v":0.055},{"k":"BH","g":"H","v":0.048},{"k":"BH","g":"H","v":0.042},{"k":"BL","g":"L","v":0.07},{"k":"BL","g":"L","v":0.05},{"k":"BL","g":"L","v":0.035},{"k":"BL","g":"L","v":0.01},{"k":"AC","g":"C","v":0.4},{"k":"AC","g":"C","v":0.365},{"k":"AC","g":"C","v":0.26},{"k":"AC","g":"C","v":0.21},{"k":"AH","g":"H","v":0.15},{"k":"AH","g":"H","v":0.105},{"k":"AH","g":"H","v":0.085},{"k":"AH","g":"H","v":0.08},{"k":"AL","g":"L","v":0.25},{"k":"AL","g":"L","v":0.24},{"k":"AL","g":"L","v":0.235},{"k":"AL","g":"L","v":0.22}],
"cS":[{"k":"BC","m":0.057,"lo":0.047,"hi":0.067},{"k":"BH","m":0.056,"lo":0.04,"hi":0.072},{"k":"BL","m":0.041,"lo":0.015,"hi":0.067},{"k":"AC","m":0.309,"lo":0.2,"hi":0.41},{"k":"AH","m":0.105,"lo":0.07,"hi":0.145},{"k":"AL","m":0.237,"lo":0.215,"hi":0.26}],
"dP":[{"k":"BH","g":"H","v":0.2},{"k":"BH","g":"H","v":0.134},{"k":"BH","g":"H","v":0.087},{"k":"BH","g":"H","v":0.075},{"k":"BH","g":"H","v":0.047},{"k":"BH","g":"H","v":0.017},{"k":"BL","g":"L","v":0.29},{"k":"BL","g":"L","v":0.1},{"k":"BL","g":"L","v":0.09},{"k":"BL","g":"L","v":0.085},{"k":"BL","g":"L","v":0.08},{"k":"BL","g":"L","v":0.075},{"k":"AH","g":"H","v":0.145},{"k":"AH","g":"H","v":0.125},{"k":"AH","g":"H","v":0.11},{"k":"AH","g":"H","v":0.1},{"k":"AH","g":"H","v":0.09},{"k":"AH","g":"H","v":0.08},{"k":"AL","g":"L","v":0.32},{"k":"AL","g":"L","v":0.32},{"k":"AL","g":"L","v":0.22},{"k":"AL","g":"L","v":0.2},{"k":"AL","g":"L","v":0.18},{"k":"AL","g":"L","v":0.035}],
"dS":[{"k":"BH","m":0.093,"lo":0.03,"hi":0.16},{"k":"BL","m":0.12,"lo":0.04,"hi":0.205},{"k":"AH","m":0.108,"lo":0.09,"hi":0.13},{"k":"AL","m":0.21,"lo":0.11,"hi":0.31}]
},
"resolve":{"scale":{"fill":"independent","shape":"independent","stroke":"independent"},"legend":{"fill":"independent","shape":"independent","stroke":"independent"}},
"spacing":0,
"vconcat":[
{
 "width":615,"height":411,
 "title":{"text":"a","offset":1},
 "resolve":{"scale":{"x":"independent","y":"independent"},"axis":{"x":"independent","y":"independent"}},
 "layer":[
 {"layer":[
  {"data":{"name":"aBand"},"mark":{"type":"rect","color":"#d3d3d3"},"encoding":{"x":{"field":"s","type":"quantitative","scale":{"domain":[-0.4,231.5],"nice":false,"zero":false},"axis":{"title":"ZT","titleX":283,"titleY":18,"titleBaseline":"top","titleFontSize":12,"values":[0,12,24,36,48,60,72,84,96,108,120,132,144,156,168,180,192,204,216,228],"labelExpr":"datum.value==48?['Food','restriction','(chow)']:datum.value==72?['Switch','(1.1 g)']:datum.value==96?['Refeeding','(ad lib)']:(datum.value%24==0?'12':'')","labelFontSize":10.5,"labelLineHeight":11,"tickSize":4,"labelPadding":3,"labelOverlap":false,"labelSeparation":0,"labelFlush":false}},"x2":{"field":"e"}}},
  {"data":{"values":[{}]},"mark":{"type":"rule","color":"#9a9a9a","strokeDash":[1,2],"strokeWidth":1},"encoding":{"y":{"datum":0,"type":"quantitative","scale":{"domain":[-0.041,0.4],"nice":false,"zero":false},"axis":{"title":"VH₂ (ml h⁻¹)","values":[0,0.1,0.2,0.3,0.4],"format":".1f","labelFontSize":11,"titleFontSize":13,"tickSize":4,"titlePadding":6,"labelPadding":2}}}},
  {"data":{"name":"aZero"},"mark":{"type":"text","text":"0","baseline":"top","dy":7,"fontSize":10.5,"fontWeight":"bold","color":"black","clip":false},"encoding":{"x":{"field":"t","type":"quantitative"},"y":{"datum":-0.041}}},
  {"data":{"name":"aEv"},"mark":{"type":"rule","color":"#e8262a","strokeDash":[4,3],"strokeWidth":1.5},"encoding":{"x":{"field":"t","type":"quantitative"}}},
  {"data":{"values":[{}]},"mark":{"type":"rect","color":"black"},"encoding":{"x":{"datum":-0.4},"x2":{"datum":46.7},"y":{"datum":-0.024},"y2":{"datum":-0.041}}},
  {"data":{"values":[{}]},"mark":{"type":"text","text":"Chow (","align":"right","baseline":"middle","color":"white","fontSize":12,"fontWeight":"bold"},"encoding":{"x":{"datum":24.4},"y":{"datum":-0.0325}}},
  {"data":{"values":[{}]},"mark":{"type":"text","text":"ad lib","align":"left","baseline":"middle","color":"white","fontSize":12,"fontWeight":"bold","fontStyle":"italic"},"encoding":{"x":{"datum":24.6},"y":{"datum":-0.0325}}},
  {"data":{"values":[{}]},"mark":{"type":"text","text":")","align":"left","baseline":"middle","color":"white","fontSize":12,"fontWeight":"bold"},"encoding":{"x":{"datum":37.0},"y":{"datum":-0.0325}}},
  {"data":{"name":"aC"},"mark":{"type":"rule","color":"#3a3a3a","strokeWidth":1},"encoding":{"x":{"field":"t","type":"quantitative"},"y":{"field":"v","type":"quantitative"},"y2":{"field":"h"}}},
  {"data":{"name":"aC"},"mark":{"type":"tick","orient":"horizontal","color":"#3a3a3a","size":5,"thickness":1},"encoding":{"x":{"field":"t","type":"quantitative"},"y":{"field":"h","type":"quantitative"}}},
  {"data":{"name":"aC"},"mark":{"type":"point","filled":true,"size":34,"strokeWidth":0.9,"opacity":1},"encoding":{"x":{"field":"t","type":"quantitative"},"y":{"field":"v","type":"quantitative"},
   "fill":{"datum":"Chow","type":"nominal","scale":{"domain":["Chow","HDD","LDD"],"range":["white","#c9c22c","#1414e6"]},"legend":{"orient":"top-left","offset":3,"title":null,"labelFontSize":13,"labelFont":"Liberation Sans","labelColor":"black","symbolSize":45,"symbolStrokeWidth":0.9,"symbolOpacity":1,"fillColor":"white","padding":2,"rowPadding":3}},
   "shape":{"datum":"Chow","type":"nominal","scale":{"domain":["Chow","HDD","LDD"],"range":["triangle-up","circle","square"]},"legend":{"orient":"top-left","offset":3,"title":null,"labelFontSize":13,"labelFont":"Liberation Sans","labelColor":"black","symbolSize":45,"symbolStrokeWidth":0.9,"symbolOpacity":1,"fillColor":"white","padding":2,"rowPadding":3}},
   "stroke":{"datum":"Chow","type":"nominal","scale":{"domain":["Chow","HDD","LDD"],"range":["#111111","#4a4614","#0a0ab0"]},"legend":{"orient":"top-left","offset":3,"title":null,"labelFontSize":13,"labelFont":"Liberation Sans","labelColor":"black","symbolSize":45,"symbolStrokeWidth":0.9,"symbolOpacity":1,"fillColor":"white","padding":2,"rowPadding":3}}}},
  {"data":{"name":"aL"},"mark":{"type":"rule","color":"#4040f4","strokeWidth":1,"opacity":0.9},"encoding":{"x":{"field":"t","type":"quantitative"},"y":{"field":"v","type":"quantitative"},"y2":{"field":"h"}}},
  {"data":{"name":"aL"},"mark":{"type":"tick","orient":"horizontal","color":"#4040f4","size":5,"thickness":1,"opacity":0.9},"encoding":{"x":{"field":"t","type":"quantitative"},"y":{"field":"h","type":"quantitative"}}},
  {"data":{"name":"aL"},"mark":{"type":"point","filled":true,"size":42,"strokeWidth":0.6,"opacity":1},"encoding":{"x":{"field":"t","type":"quantitative"},"y":{"field":"v","type":"quantitative"},"fill":{"datum":"LDD","type":"nominal"},"shape":{"datum":"LDD","type":"nominal"},"stroke":{"datum":"LDD","type":"nominal"}}},
  {"data":{"name":"aH"},"mark":{"type":"rule","color":"#d6d24e","strokeWidth":1},"encoding":{"x":{"field":"t","type":"quantitative"},"y":{"field":"l","type":"quantitative"},"y2":{"field":"v"}}},
  {"data":{"name":"aH"},"mark":{"type":"tick","orient":"horizontal","color":"#d6d24e","size":5,"thickness":1},"encoding":{"x":{"field":"t","type":"quantitative"},"y":{"field":"l","type":"quantitative"}}},
  {"data":{"name":"aH"},"mark":{"type":"point","filled":true,"size":55,"strokeWidth":0.6,"opacity":1},"encoding":{"x":{"field":"t","type":"quantitative"},"y":{"field":"v","type":"quantitative"},"fill":{"datum":"HDD","type":"nominal"},"shape":{"datum":"HDD","type":"nominal"},"stroke":{"datum":"HDD","type":"nominal"}}},
  {"data":{"values":[{}]},"mark":{"type":"rect","fill":"white","stroke":"black","strokeWidth":1},"encoding":{"x":{"datum":63.2},"x2":{"datum":96.2},"y":{"datum":0.4},"y2":{"datum":0.345}}},
  {"data":{"values":[{}]},"mark":{"type":"text","text":"Chow","align":"right","baseline":"middle","fontSize":13,"color":"black"},"encoding":{"x":{"datum":77.5},"y":{"datum":0.3925}}},
  {"data":{"values":[{}]},"mark":{"type":"text","text":"vs","align":"right","baseline":"middle","fontSize":13,"fontStyle":"italic","color":"black"},"encoding":{"x":{"datum":83.8},"y":{"datum":0.3925}}},
  {"data":{"values":[{}]},"mark":{"type":"text","text":"HDD","align":"right","baseline":"middle","fontSize":13,"color":"black"},"encoding":{"x":{"datum":95.6},"y":{"datum":0.3925}}},
  {"data":{"values":[{}]},"mark":{"type":"text","text":"LDD","align":"right","baseline":"middle","fontSize":13,"color":"black"},"encoding":{"x":{"datum":75.6},"y":{"datum":0.372}}},
  {"data":{"values":[{}]},"mark":{"type":"text","text":"vs","align":"right","baseline":"middle","fontSize":13,"fontStyle":"italic","color":"black"},"encoding":{"x":{"datum":81.9},"y":{"datum":0.372}}},
  {"data":{"values":[{}]},"mark":{"type":"text","text":"Chow","align":"right","baseline":"middle","fontSize":13,"color":"black"},"encoding":{"x":{"datum":95.6},"y":{"datum":0.372}}},
  {"data":{"values":[{}]},"mark":{"type":"text","text":"LDD","align":"right","baseline":"middle","fontSize":13,"color":"black"},"encoding":{"x":{"datum":77.5},"y":{"datum":0.3525}}},
  {"data":{"values":[{}]},"mark":{"type":"text","text":"vs","align":"right","baseline":"middle","fontSize":13,"fontStyle":"italic","color":"black"},"encoding":{"x":{"datum":83.8},"y":{"datum":0.3525}}},
  {"data":{"values":[{}]},"mark":{"type":"text","text":"HDD","align":"right","baseline":"middle","fontSize":13,"color":"black"},"encoding":{"x":{"datum":95.6},"y":{"datum":0.3525}}},
  {"data":{"name":"aSig"},"transform":[{"filter":"datum.c=='CH'"}],"mark":{"type":"point","shape":"square","filled":true,"size":5,"color":"black","opacity":1},"encoding":{"x":{"field":"t","type":"quantitative"},"y":{"datum":0.395}}},
  {"data":{"name":"aSig"},"transform":[{"filter":"datum.c=='LC'"}],"mark":{"type":"point","shape":"square","filled":true,"size":5,"color":"black","opacity":1},"encoding":{"x":{"field":"t","type":"quantitative"},"y":{"datum":0.374}}},
  {"data":{"name":"aSig"},"transform":[{"filter":"datum.c=='LH'"}],"mark":{"type":"point","shape":"square","filled":true,"size":5,"color":"black","opacity":1},"encoding":{"x":{"field":"t","type":"quantitative"},"y":{"datum":0.354}}},
  {"data":{"values":[{}]},"mark":{"type":"rect","fill":"white","stroke":"black","strokeWidth":1.5},"encoding":{"x":{"datum":14.7},"x2":{"datum":91.7},"y":{"datum":0.3086},"y2":{"datum":0.161}}},
  {"data":{"values":[{}]},"mark":{"type":"rule","color":"black","strokeWidth":2},"encoding":{"x":{"datum":56},"y":{"datum":0.3086},"y2":{"datum":0.337}}},
  {"data":{"values":[{}]},"mark":{"type":"rule","color":"black","strokeWidth":2},"encoding":{"x":{"datum":56},"x2":{"datum":105.6},"y":{"datum":0.337}}},
  {"data":{"values":[{}]},"mark":{"type":"rule","color":"black","strokeWidth":2},"encoding":{"x":{"datum":105.6},"y":{"datum":0.337},"y2":{"datum":0.3196}}},
  {"data":{"values":[{}]},"mark":{"type":"rule","color":"black","strokeWidth":2.5},"encoding":{"x":{"datum":98},"x2":{"datum":106.8},"y":{"datum":0.3196}}},
  {"data":{"values":[{}]},"mark":{"type":"point","shape":"triangle-left","filled":true,"size":70,"color":"black","opacity":1},"encoding":{"x":{"datum":98.3},"y":{"datum":0.3196}}},
  {"data":{"values":[{}]},"mark":{"type":"point","shape":"triangle-right","filled":true,"size":70,"color":"black","opacity":1},"encoding":{"x":{"datum":106.5},"y":{"datum":0.3196}}}
 ]},
 {"layer":[
  {"data":{"name":"aInsS"},"mark":{"type":"rule","color":"#555","strokeWidth":1},"encoding":{"x":{"field":"g","type":"nominal","scale":{"type":"point","domain":["Chow","HDD","LDD"],"range":[72,229],"padding":0.5},"axis":{"orient":"bottom","offset":-205,"zindex":2,"title":null,"labelFontSize":8,"tickSize":3,"labelPadding":1,"labelAngle":0,"domainWidth":1,"tickWidth":1}},"y":{"field":"lo","type":"quantitative","scale":{"domain":[0,2.5],"range":[206,101],"nice":false,"zero":false},"axis":{"orient":"left","offset":-72,"zindex":2,"title":"Cumulative starch intake (g)","titleFontSize":7.5,"labelFontSize":7.5,"values":[0,0.5,1,1.5,2,2.5],"format":".1f","tickSize":3,"titlePadding":3,"labelPadding":1,"domainWidth":1,"tickWidth":1}},"y2":{"field":"hi"}}},
  {"data":{"name":"aInsS"},"mark":{"type":"tick","orient":"horizontal","color":"#555","size":22,"thickness":1},"encoding":{"x":{"field":"g","type":"nominal"},"y":{"field":"lo","type":"quantitative"}}},
  {"data":{"name":"aInsS"},"mark":{"type":"tick","orient":"horizontal","color":"#555","size":22,"thickness":1},"encoding":{"x":{"field":"g","type":"nominal"},"y":{"field":"hi","type":"quantitative"}}},
  {"data":{"name":"aInsS"},"mark":{"type":"tick","orient":"horizontal","color":"#555","size":40,"thickness":1},"encoding":{"x":{"field":"g","type":"nominal"},"y":{"field":"m","type":"quantitative"}}},
  {"data":{"name":"aIns"},"transform":[{"filter":"datum.g=='Chow'"}],"mark":{"type":"point","shape":"triangle-up","filled":true,"fill":"white","stroke":"#111","strokeWidth":0.8,"size":28,"opacity":1},"encoding":{"x":{"field":"g","type":"nominal"},"y":{"field":"v","type":"quantitative"}}},
  {"data":{"name":"aIns"},"transform":[{"filter":"datum.g=='HDD'"}],"mark":{"type":"point","shape":"circle","filled":true,"fill":"#c9c22c","stroke":"#4a4614","strokeWidth":0.6,"size":34,"opacity":1},"encoding":{"x":{"field":"g","type":"nominal"},"y":{"field":"v","type":"quantitative"}}},
  {"data":{"name":"aIns"},"transform":[{"filter":"datum.g=='LDD'"}],"mark":{"type":"point","shape":"square","filled":true,"fill":"#1414e6","stroke":"#0a0ab0","strokeWidth":0.5,"size":30,"opacity":1},"encoding":{"x":{"field":"g","type":"nominal"},"y":{"field":"v","type":"quantitative"}}}
 ]}
 ]
},
{
 "spacing":19,
 "hconcat":[
 {
  "width":434,"height":287,
  "title":{"text":"b","offset":3},
  "resolve":{"scale":{"x":"independent","y":"independent"},"axis":{"x":"independent","y":"independent"}},
  "layer":[
  {"layer":[
   {"data":{"name":"bBand"},"mark":{"type":"rect","color":"#d3d3d3"},"encoding":{"x":{"field":"s","type":"quantitative","scale":{"domain":[-0.7,159],"nice":false,"zero":false},"axis":{"title":"ZT","titleFontSize":12,"titlePadding":1,"values":[0,12,24,36,48,60,72,84,96,108,120,132,144,156],"labelExpr":"datum.value==48?'Switch':(datum.value%24==0?'12':'')","labelFontSize":11,"tickSize":4,"labelPadding":2,"labelOverlap":false,"labelFlush":false}},"x2":{"field":"e"}}},
   {"data":{"values":[{}]},"mark":{"type":"rule","color":"#9a9a9a","strokeDash":[1,2],"strokeWidth":1},"encoding":{"y":{"datum":0,"type":"quantitative","scale":{"domain":[-0.07,0.6],"nice":false,"zero":false},"axis":{"title":"VH₂ (ml h⁻¹)","values":[0,0.2,0.4,0.6],"format":".1f","labelFontSize":11,"titleFontSize":13,"tickSize":4,"titlePadding":6,"labelPadding":2}}}},
   {"data":{"name":"bZero"},"mark":{"type":"text","text":"0","baseline":"top","dy":6,"fontSize":11,"fontWeight":"bold","color":"black","clip":false},"encoding":{"x":{"field":"t","type":"quantitative"},"y":{"datum":-0.07}}},
   {"data":{"name":"bEv"},"mark":{"type":"rule","color":"#e8262a","strokeDash":[4,3],"strokeWidth":1.5},"encoding":{"x":{"field":"t","type":"quantitative"}}},
   {"data":{"values":[{}]},"mark":{"type":"rect","color":"black"},"encoding":{"x":{"datum":-0.4},"x2":{"datum":46.8},"y":{"datum":-0.028},"y2":{"datum":-0.068}}},
   {"data":{"values":[{}]},"mark":{"type":"text","text":"Chow (","align":"right","baseline":"middle","color":"white","fontSize":12,"fontWeight":"bold"},"encoding":{"x":{"datum":26.5},"y":{"datum":-0.048}}},
   {"data":{"values":[{}]},"mark":{"type":"text","text":"ad lib","align":"left","baseline":"middle","color":"white","fontSize":12,"fontWeight":"bold","fontStyle":"italic"},"encoding":{"x":{"datum":26.7},"y":{"datum":-0.048}}},
   {"data":{"values":[{}]},"mark":{"type":"text","text":")","align":"left","baseline":"middle","color":"white","fontSize":12,"fontWeight":"bold"},"encoding":{"x":{"datum":38.6},"y":{"datum":-0.048}}},
   {"data":{"name":"bH"},"mark":{"type":"rule","color":"#d6d24e","strokeWidth":1},"encoding":{"x":{"field":"t","type":"quantitative"},"y":{"field":"l","type":"quantitative"},"y2":{"field":"v"}}},
   {"data":{"name":"bH"},"mark":{"type":"tick","orient":"horizontal","color":"#d6d24e","size":5,"thickness":1},"encoding":{"x":{"field":"t","type":"quantitative"},"y":{"field":"l","type":"quantitative"}}},
   {"data":{"name":"bH"},"mark":{"type":"point","shape":"circle","filled":true,"fill":"#c9c22c","size":62,"stroke":"#4a4614","strokeWidth":0.6,"opacity":1},"encoding":{"x":{"field":"t","type":"quantitative"},"y":{"field":"v","type":"quantitative"}}},
   {"data":{"name":"bL"},"mark":{"type":"rule","color":"#4040f4","strokeWidth":1,"opacity":0.9},"encoding":{"x":{"field":"t","type":"quantitative"},"y":{"field":"v","type":"quantitative"},"y2":{"field":"h"}}},
   {"data":{"name":"bL"},"mark":{"type":"tick","orient":"horizontal","color":"#4040f4","size":5,"thickness":1,"opacity":0.9},"encoding":{"x":{"field":"t","type":"quantitative"},"y":{"field":"h","type":"quantitative"}}},
   {"data":{"name":"bL"},"mark":{"type":"point","shape":"square","filled":true,"fill":"#1414e6","size":50,"stroke":"#0a0ab0","strokeWidth":0.5,"opacity":1},"encoding":{"x":{"field":"t","type":"quantitative"},"y":{"field":"v","type":"quantitative"}}},
   {"data":{"values":[{}]},"mark":{"type":"rect","fill":"white","stroke":"black","strokeWidth":1},"encoding":{"x":{"datum":62.6},"x2":{"datum":95.7},"y":{"datum":0.588},"y2":{"datum":0.549}}},
   {"data":{"values":[{}]},"mark":{"type":"text","text":"LDD","align":"right","baseline":"middle","fontSize":13,"color":"black"},"encoding":{"x":{"datum":75.5},"y":{"datum":0.568}}},
   {"data":{"values":[{}]},"mark":{"type":"text","text":"vs","align":"right","baseline":"middle","fontSize":13,"fontStyle":"italic","color":"black"},"encoding":{"x":{"datum":81.6},"y":{"datum":0.568}}},
   {"data":{"values":[{}]},"mark":{"type":"text","text":"HDD","align":"right","baseline":"middle","fontSize":13,"color":"black"},"encoding":{"x":{"datum":93.2},"y":{"datum":0.568}}},
   {"data":{"name":"bSig"},"mark":{"type":"point","shape":"square","filled":true,"size":5,"color":"black","opacity":1},"encoding":{"x":{"field":"t","type":"quantitative"},"y":{"datum":0.585}}},
   {"data":{"values":[{}]},"mark":{"type":"rect","fill":"white","stroke":"black","strokeWidth":1.5},"encoding":{"x":{"datum":13.6},"x2":{"datum":89.5},"y":{"datum":0.507},"y2":{"datum":0.188}}},
   {"data":{"values":[{}]},"mark":{"type":"rule","color":"black","strokeWidth":2},"encoding":{"x":{"datum":54.1},"y":{"datum":0.188},"y2":{"datum":0.137}}},
   {"data":{"values":[{}]},"mark":{"type":"rule","color":"black","strokeWidth":2.5},"encoding":{"x":{"datum":49},"x2":{"datum":59},"y":{"datum":0.137}}},
   {"data":{"values":[{}]},"mark":{"type":"point","shape":"triangle-left","filled":true,"size":70,"color":"black","opacity":1},"encoding":{"x":{"datum":49.3},"y":{"datum":0.137}}},
   {"data":{"values":[{}]},"mark":{"type":"point","shape":"triangle-right","filled":true,"size":70,"color":"black","opacity":1},"encoding":{"x":{"datum":58.7},"y":{"datum":0.137}}}
  ]},
  {"layer":[
   {"data":{"name":"bInsS"},"mark":{"type":"rule","color":"#555","strokeWidth":1},"encoding":{"x":{"field":"g","type":"nominal","scale":{"type":"point","domain":["HDD","LDD"],"range":[71,234],"padding":0.5},"axis":{"orient":"bottom","offset":-130,"zindex":2,"title":null,"labelFontSize":8,"tickSize":3,"labelPadding":1,"labelAngle":0,"domainWidth":1,"tickWidth":1}},"y":{"field":"lo","type":"quantitative","scale":{"domain":[0,2],"range":[157,48],"nice":false,"zero":false},"axis":{"orient":"left","offset":-71,"zindex":2,"title":"Cumulative starch intake (g)","titleFontSize":7.5,"labelFontSize":7.5,"values":[0,0.5,1,1.5,2],"format":".1f","tickSize":3,"titlePadding":3,"labelPadding":1,"domainWidth":1,"tickWidth":1}},"y2":{"field":"hi"}}},
   {"data":{"name":"bInsS"},"mark":{"type":"tick","orient":"horizontal","color":"#555","size":33,"thickness":1},"encoding":{"x":{"field":"g","type":"nominal"},"y":{"field":"lo","type":"quantitative"}}},
   {"data":{"name":"bInsS"},"mark":{"type":"tick","orient":"horizontal","color":"#555","size":33,"thickness":1},"encoding":{"x":{"field":"g","type":"nominal"},"y":{"field":"hi","type":"quantitative"}}},
   {"data":{"name":"bInsS"},"mark":{"type":"tick","orient":"horizontal","color":"#555","size":58,"thickness":1},"encoding":{"x":{"field":"g","type":"nominal"},"y":{"field":"m","type":"quantitative"}}},
   {"data":{"name":"bIns"},"transform":[{"filter":"datum.g=='HDD'"}],"mark":{"type":"point","shape":"circle","filled":true,"fill":"#c9c22c","stroke":"#4a4614","strokeWidth":0.6,"size":34,"opacity":1},"encoding":{"x":{"field":"g","type":"nominal"},"y":{"field":"v","type":"quantitative"}}},
   {"data":{"name":"bIns"},"transform":[{"filter":"datum.g=='LDD'"}],"mark":{"type":"point","shape":"square","filled":true,"fill":"#1414e6","stroke":"#0a0ab0","strokeWidth":0.5,"size":34,"opacity":1},"encoding":{"x":{"field":"g","type":"nominal"},"y":{"field":"v","type":"quantitative"}}}
  ]}
  ]
 },
 {
  "spacing":22,
  "vconcat":[
  {
   "width":128,"height":1,
   "title":{"text":"c","offset":3,"frame":"group","dx":-23},
   "data":{"values":[{}]},
   "mark":{"type":"point","opacity":0},
   "encoding":{}
  },
  {
   "width":128,"height":86,
   "layer":[
    {"data":{"name":"cS"},"mark":{"type":"rule","color":"black","strokeWidth":1},"encoding":{"x":{"field":"k","type":"nominal","scale":{"type":"point","domain":["BC","BH","BL","g","AC","AH","AL"],"padding":0.66},"axis":{"values":["BH","AH"],"labelExpr":"datum.value=='BH'?'Before 1.1g':'After 1.1g'","title":null,"labelFontSize":7,"tickSize":3,"labelPadding":2,"labelAngle":0,"domainWidth":1,"tickWidth":1}},"y":{"field":"lo","type":"quantitative","scale":{"domain":[0,0.5],"nice":false,"zero":false},"axis":{"values":[0,0.1,0.2,0.3,0.4,0.5],"format":".1f","title":"VH₂ (ml)","titleFontSize":6.5,"labelFontSize":6,"tickSize":2.5,"titlePadding":3,"labelPadding":1,"domainWidth":1,"tickWidth":1}},"y2":{"field":"hi"}}},
    {"data":{"name":"cS"},"mark":{"type":"tick","orient":"horizontal","color":"black","size":7,"thickness":1},"encoding":{"x":{"field":"k","type":"nominal"},"y":{"field":"lo","type":"quantitative"}}},
    {"data":{"name":"cS"},"mark":{"type":"tick","orient":"horizontal","color":"black","size":7,"thickness":1},"encoding":{"x":{"field":"k","type":"nominal"},"y":{"field":"hi","type":"quantitative"}}},
    {"data":{"name":"cS"},"mark":{"type":"tick","orient":"horizontal","color":"black","size":13,"thickness":1},"encoding":{"x":{"field":"k","type":"nominal"},"y":{"field":"m","type":"quantitative"}}},
    {"data":{"name":"cP"},"transform":[{"filter":"datum.g=='C'"}],"mark":{"type":"point","shape":"triangle-up","filled":true,"fill":"white","stroke":"#111","strokeWidth":0.8,"size":18,"opacity":1},"encoding":{"x":{"field":"k","type":"nominal"},"y":{"field":"v","type":"quantitative"}}},
    {"data":{"name":"cP"},"transform":[{"filter":"datum.g=='H'"}],"mark":{"type":"point","shape":"circle","filled":true,"fill":"#c9c22c","stroke":"#4a4614","strokeWidth":0.5,"size":20,"opacity":1},"encoding":{"x":{"field":"k","type":"nominal"},"y":{"field":"v","type":"quantitative"}}},
    {"data":{"name":"cP"},"transform":[{"filter":"datum.g=='L'"}],"mark":{"type":"point","shape":"square","filled":true,"fill":"#1414e6","stroke":"#0a0ab0","strokeWidth":0.5,"size":20,"opacity":1},"encoding":{"x":{"field":"k","type":"nominal"},"y":{"field":"v","type":"quantitative"}}},
    {"data":{"values":[{}]},"mark":{"type":"rule","color":"#333","strokeWidth":0.8},"encoding":{"x":{"datum":"AC"},"x2":{"datum":"AH"},"y":{"datum":0.442}}},
    {"data":{"values":[{}]},"mark":{"type":"rule","color":"#333","strokeWidth":0.8},"encoding":{"x":{"datum":"AC"},"y":{"datum":0.442},"y2":{"datum":0.428}}},
    {"data":{"values":[{}]},"mark":{"type":"rule","color":"#333","strokeWidth":0.8},"encoding":{"x":{"datum":"AH"},"y":{"datum":0.442},"y2":{"datum":0.428}}},
    {"data":{"values":[{}]},"mark":{"type":"rule","color":"#333","strokeWidth":0.8},"encoding":{"x":{"datum":"AL"},"y":{"datum":0.442},"y2":{"datum":0.428}}},
    {"data":{"values":[{}]},"mark":{"type":"rule","color":"#333","strokeWidth":0.8},"encoding":{"x":{"datum":"AH"},"x2":{"datum":"AL"},"y":{"datum":0.442}}},
    {"data":{"values":[{}]},"mark":{"type":"text","text":"**","fontSize":7,"fontWeight":"bold","dx":8.5,"baseline":"middle","color":"black"},"encoding":{"x":{"datum":"AC"},"y":{"datum":0.468}}},
    {"data":{"values":[{}]},"mark":{"type":"text","text":"*","fontSize":7,"fontWeight":"bold","dx":8.5,"baseline":"middle","color":"black"},"encoding":{"x":{"datum":"AH"},"y":{"datum":0.468}}}
   ]
  },
  {
   "width":128,"height":86,
   "title":{"text":"d","offset":34},
   "layer":[
    {"data":{"name":"dS"},"mark":{"type":"rule","color":"#555","strokeWidth":1},"encoding":{"x":{"field":"k","type":"nominal","scale":{"type":"point","domain":["BH","Bm","BL","g1","g2","AH","Am","AL"],"padding":1.47},"axis":{"values":["Bm","Am"],"labelExpr":"datum.value=='Bm'?'Before switch':'After switch'","title":null,"labelFontSize":7,"tickSize":3,"labelPadding":2,"labelAngle":0,"domainWidth":1,"tickWidth":1}},"y":{"field":"lo","type":"quantitative","scale":{"domain":[0,0.5],"nice":false,"zero":false},"axis":{"values":[0,0.1,0.2,0.3,0.4,0.5],"format":".1f","title":"VH₂ (ml)","titleFontSize":6.5,"labelFontSize":6,"tickSize":2.5,"titlePadding":3,"labelPadding":1,"domainWidth":1,"tickWidth":1}},"y2":{"field":"hi"}}},
    {"data":{"name":"dS"},"mark":{"type":"tick","orient":"horizontal","color":"#555","size":8,"thickness":1},"encoding":{"x":{"field":"k","type":"nominal"},"y":{"field":"lo","type":"quantitative"}}},
    {"data":{"name":"dS"},"mark":{"type":"tick","orient":"horizontal","color":"#555","size":8,"thickness":1},"encoding":{"x":{"field":"k","type":"nominal"},"y":{"field":"hi","type":"quantitative"}}},
    {"data":{"name":"dS"},"mark":{"type":"tick","orient":"horizontal","color":"#555","size":14,"thickness":1},"encoding":{"x":{"field":"k","type":"nominal"},"y":{"field":"m","type":"quantitative"}}},
    {"data":{"name":"dP"},"transform":[{"filter":"datum.g=='H'"}],"mark":{"type":"point","shape":"circle","filled":true,"fill":"#c9c22c","stroke":"#4a4614","strokeWidth":0.5,"size":20,"opacity":1},"encoding":{"x":{"field":"k","type":"nominal"},"y":{"field":"v","type":"quantitative"}}},
    {"data":{"name":"dP"},"transform":[{"filter":"datum.g=='L'"}],"mark":{"type":"point","shape":"square","filled":true,"fill":"#1414e6","stroke":"#0a0ab0","strokeWidth":0.5,"size":20,"opacity":1},"encoding":{"x":{"field":"k","type":"nominal"},"y":{"field":"v","type":"quantitative"}}},
    {"data":{"values":[{}]},"mark":{"type":"rule","color":"#333","strokeWidth":0.8},"encoding":{"x":{"datum":"AH"},"x2":{"datum":"AL"},"y":{"datum":0.355}}},
    {"data":{"values":[{}]},"mark":{"type":"rule","color":"#333","strokeWidth":0.8},"encoding":{"x":{"datum":"AH"},"y":{"datum":0.355},"y2":{"datum":0.342}}},
    {"data":{"values":[{}]},"mark":{"type":"rule","color":"#333","strokeWidth":0.8},"encoding":{"x":{"datum":"AL"},"y":{"datum":0.355},"y2":{"datum":0.342}}},
    {"data":{"values":[{}]},"mark":{"type":"text","text":"*","fontSize":7,"fontWeight":"bold","baseline":"middle","color":"black"},"encoding":{"x":{"datum":"Am"},"y":{"datum":0.38}}}
   ]
  }
  ]
 }
 ]
}
]
}
